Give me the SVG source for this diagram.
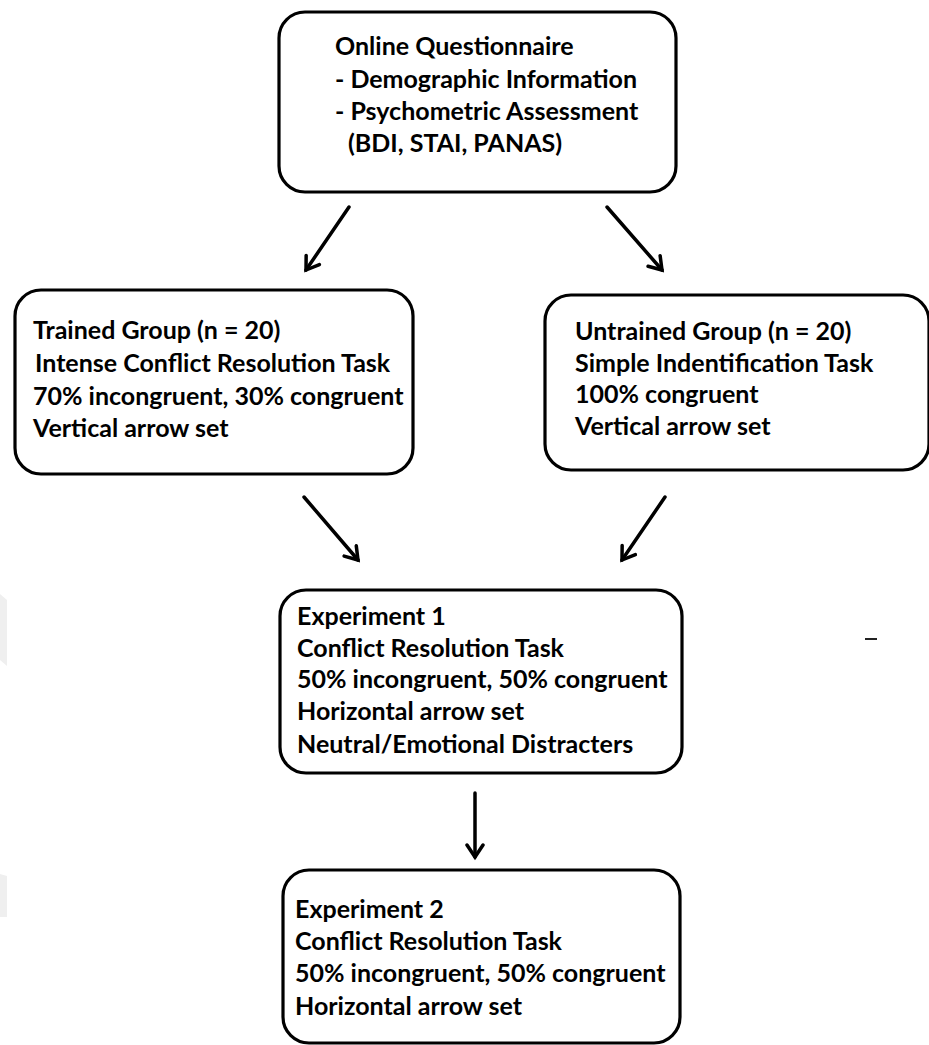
<svg xmlns="http://www.w3.org/2000/svg" width="929" height="1045" viewBox="0 0 929 1045">
  <style>
    .box { fill: #ffffff; stroke: #000000; stroke-width: 3.2; }
    .label { font-family: "Lato", "Liberation Sans", sans-serif; font-weight: 700; font-size: 25px; fill: #000000; }
    .link { fill: none; stroke: #000000; stroke-width: 3.5; stroke-linecap: round; }
    .head { fill: none; stroke: #000000; stroke-width: 3.5; stroke-linecap: round; stroke-linejoin: miter; }
    .shade { fill: #efefef; }
  </style>
  <defs>
    <marker id="chevron" markerUnits="userSpaceOnUse" markerWidth="24" markerHeight="24" refX="14" refY="9" viewBox="0 0 24 18" orient="auto">
      <path class="head" d="M2,1 L14,9 L2,17"/>
    </marker>
  </defs>

  <rect width="929" height="1045" fill="#ffffff"/>

  <!-- faint marks along the left margin -->
  <polygon class="shade" points="0,594 7,600 7,666 0,660"/>
  <polygon class="shade" points="0,874 7,876 7,917 0,917"/>
  <!-- stray dash on the right -->
  <line x1="865" y1="639" x2="877" y2="639" stroke="#222222" stroke-width="2"/>

  <g id="questionnaire">
    <rect class="box" x="279" y="12" width="397" height="180" rx="26" ry="26"/>
    <text class="label" x="335" y="55">Online Questionnaire</text>
    <text class="label" x="335" y="88">- Demographic Information</text>
    <text class="label" x="335" y="120">- Psychometric Assessment</text>
    <text class="label" x="348" y="152">(BDI, STAI, PANAS)</text>
  </g>

  <g id="trained-group">
    <rect class="box" x="15" y="290" width="398" height="184" rx="26" ry="26"/>
    <text class="label" x="33" y="339">Trained Group (n = 20)</text>
    <text class="label" x="35" y="372">Intense Conflict Resolution Task</text>
    <text class="label" x="33" y="405">70% incongruent, 30% congruent</text>
    <text class="label" x="33" y="437">Vertical arrow set</text>
  </g>

  <g id="untrained-group">
    <rect class="box" x="545" y="295" width="384" height="175" rx="26" ry="26"/>
    <text class="label" x="575" y="340">Untrained Group (n = 20)</text>
    <text class="label" x="575" y="372">Simple Indentification Task</text>
    <text class="label" x="575" y="403">100% congruent</text>
    <text class="label" x="575" y="435">Vertical arrow set</text>
  </g>

  <g id="experiment-1">
    <rect class="box" x="280" y="590" width="402" height="183" rx="26" ry="26"/>
    <text class="label" x="297" y="625">Experiment 1</text>
    <text class="label" x="297" y="657">Conflict Resolution Task</text>
    <text class="label" x="297" y="688">50% incongruent, 50% congruent</text>
    <text class="label" x="297" y="720">Horizontal arrow set</text>
    <text class="label" x="297" y="753">Neutral/Emotional Distracters</text>
  </g>

  <g id="experiment-2">
    <rect class="box" x="283" y="870" width="397" height="173" rx="26" ry="26"/>
    <text class="label" x="295" y="918">Experiment 2</text>
    <text class="label" x="295" y="950">Conflict Resolution Task</text>
    <text class="label" x="295" y="982">50% incongruent, 50% congruent</text>
    <text class="label" x="295" y="1015">Horizontal arrow set</text>
  </g>

  <g id="connectors">
    <line class="link" x1="349" y1="207" x2="306" y2="270" marker-end="url(#chevron)"/>
    <line class="link" x1="607" y1="207" x2="662" y2="270" marker-end="url(#chevron)"/>
    <line class="link" x1="304" y1="497" x2="358" y2="560" marker-end="url(#chevron)"/>
    <line class="link" x1="665" y1="497" x2="622" y2="560" marker-end="url(#chevron)"/>
    <line class="link" x1="475" y1="793" x2="475" y2="857" marker-end="url(#chevron)"/>
  </g>
</svg>
